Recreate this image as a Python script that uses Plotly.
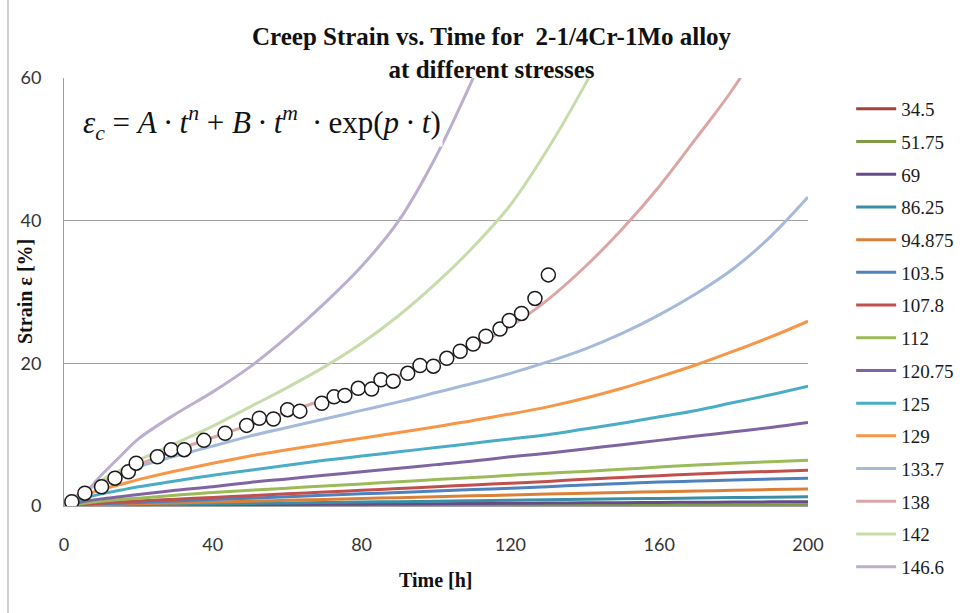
import plotly.graph_objects as go

# ---------------- data ----------------
time_h = [0, 5, 10, 15, 20, 30, 40, 50, 60, 70, 80, 90, 100, 110, 120, 130, 140, 150, 160, 170, 180, 190, 200]

stress_labels = ["34.5", "51.75", "69", "86.25", "94.875", "103.5", "107.8", "112",
                 "120.75", "125", "129", "133.7", "138", "142", "146.6"]

s_34_5 = [0, 0.003, 0.005, 0.007, 0.008, 0.011, 0.014, 0.017, 0.02, 0.023, 0.026, 0.029, 0.032,
          0.035, 0.037, 0.04, 0.042, 0.044, 0.046, 0.048, 0.05, 0.052, 0.054]
s_51_75 = [0, 0.01, 0.015, 0.02, 0.025, 0.035, 0.045, 0.055, 0.065, 0.075, 0.085, 0.095, 0.105,
           0.11, 0.12, 0.125, 0.135, 0.14, 0.15, 0.16, 0.165, 0.175, 0.18]
s_69 = [0, 0.03, 0.05, 0.07, 0.08, 0.11, 0.14, 0.17, 0.2, 0.23, 0.26, 0.29, 0.32,
        0.35, 0.38, 0.41, 0.44, 0.47, 0.5, 0.53, 0.55, 0.58, 0.6]
s_86_25 = [0, 0.05, 0.09, 0.12, 0.15, 0.22, 0.28, 0.35, 0.42, 0.48, 0.55, 0.61, 0.68,
           0.74, 0.8, 0.87, 0.93, 1.0, 1.06, 1.12, 1.18, 1.24, 1.3]
s_94_875 = [0, 0.1, 0.18, 0.25, 0.3, 0.42, 0.55, 0.68, 0.8, 0.92, 1.05, 1.17, 1.3,
            1.42, 1.55, 1.67, 1.8, 1.9, 2.0, 2.1, 2.2, 2.3, 2.4]
s_103_5 = [0, 0.2, 0.3, 0.4, 0.5, 0.7, 0.9, 1.1, 1.3, 1.5, 1.7, 1.9, 2.1,
           2.3, 2.5, 2.7, 2.95, 3.15, 3.35, 3.5, 3.65, 3.78, 3.9]
s_107_8 = [0, 0.25, 0.4, 0.55, 0.7, 0.95, 1.2, 1.45, 1.7, 1.95, 2.2, 2.45, 2.7,
           2.95, 3.2, 3.45, 3.75, 4.0, 4.25, 4.5, 4.7, 4.85, 5.0]
s_112 = [0, 0.35, 0.65, 0.9, 1.1, 1.5, 1.9, 2.2, 2.5, 2.8, 3.1, 3.4, 3.7,
         4.0, 4.3, 4.6, 4.85, 5.15, 5.45, 5.75, 6.0, 6.2, 6.4]
s_120_75 = [0, 0.6, 1.0, 1.3, 1.6, 2.2, 2.7, 3.3, 3.8, 4.3, 4.8, 5.3, 5.8,
            6.3, 6.9, 7.4, 8.0, 8.6, 9.2, 9.8, 10.4, 11.0, 11.7]
s_125 = [0, 1.0, 1.7, 2.2, 2.7, 3.5, 4.3, 5.0, 5.7, 6.4, 7.0, 7.6, 8.2,
         8.8, 9.4, 10.0, 10.8, 11.6, 12.5, 13.4, 14.5, 15.6, 16.8]
s_129 = [0, 1.4, 2.3, 3.0, 3.7, 4.9, 6.0, 7.0, 7.9, 8.7, 9.5, 10.3, 11.1,
         12.0, 12.9, 13.9, 15.1, 16.5, 18.1, 19.8, 21.7, 23.7, 25.9]
s_133_7 = [0, 2.0, 3.2, 4.4, 5.5, 7.0, 8.4, 9.8, 11.0, 12.2, 13.4, 14.6, 15.9,
           17.2, 18.6, 20.2, 22.0, 24.2, 26.8, 29.8, 33.3, 37.8, 43.3]
s_138 = [0, 2.0, 3.3, 4.6, 5.8, 7.8, 9.6, 11.4, 13.2, 14.9, 16.6, 18.3, 20.2,
         22.4, 25.2, 28.9, 33.5, 38.8, 44.8, 51.6, 58.6, 67.0, None]
s_142 = [0, 1.8, 3.6, 5.0, 6.4, 8.8, 11.2, 13.9, 16.6, 19.5, 22.8, 26.7, 31.2,
         36.3, 42.2, 50.0, 59.0, 69.0, None, None, None, None, None]
s_146_6 = [0, 1.5, 4.3, 6.9, 9.4, 12.9, 16.0, 19.5, 23.7, 28.4, 33.6, 40.0, 49.0,
           60.0, 72.0, None, None, None, None, None, None, None, None]

series_values = [s_34_5, s_51_75, s_69, s_86_25, s_94_875, s_103_5, s_107_8, s_112,
                 s_120_75, s_125, s_129, s_133_7, s_138, s_142, s_146_6]

series_colors = ["#A5403D", "#7E9C46", "#654C88", "#3A8EA5", "#DA8137", "#4F81BD", "#C0504D",
                 "#9BBB59", "#8064A2", "#4BACC6", "#F79646", "#A5BADB", "#DDA5A4",
                 "#C8DBAA", "#BBAECF"]

exp_time = [2.1, 5.6, 10.1, 13.7, 17.3, 19.4, 25.1, 28.8, 32.3, 37.6, 43.3, 49.1, 52.5, 56.3,
            60.1, 63.4, 69.3, 72.6, 75.5, 79.1, 82.7, 85.2, 88.5, 92.4, 95.7, 99.3, 102.9,
            106.5, 110.0, 113.4, 117.2, 119.7, 123.0, 126.6, 130.2]
exp_strain = [0.6, 1.8, 2.7, 3.9, 4.8, 6.0, 6.9, 7.9, 7.9, 9.2, 10.2, 11.3, 12.3, 12.2,
              13.5, 13.3, 14.4, 15.3, 15.5, 16.5, 16.4, 17.7, 17.5, 18.6, 19.7, 19.6, 20.7,
              21.7, 22.7, 23.8, 24.8, 26.0, 27.0, 29.1, 32.4]

x_ticks = [0, 40, 80, 120, 160, 200]
y_ticks = [0, 20, 40, 60]

# ---------------- figure ----------------
fig = go.Figure()
for i, (lab, vals, col) in enumerate(zip(stress_labels, series_values, series_colors)):
    fig.add_trace(go.Scatter(
        x=time_h, y=vals, mode="lines", name=lab, legendgroup=f"g{i}",
        line=dict(color=col, width=3, shape="spline", smoothing=1.0),
        connectgaps=False,
    ))

fig.add_trace(go.Scatter(
    x=exp_time, y=exp_strain, mode="markers", showlegend=False,
    marker=dict(symbol="circle", size=14, color="white",
                line=dict(color="#1a1a1a", width=1.5)),
))

serif = "Liberation Serif, Times New Roman, serif"
sans = "Lato, Open Sans, sans-serif"

fig.update_layout(
    width=973, height=613,
    margin=dict(l=64, r=165, t=78, b=107),
    paper_bgcolor="white", plot_bgcolor="white",
    showlegend=True,
    legend=dict(
        x=1.058, y=(506 - 90) / 428, xanchor="left", yanchor="top",
        font=dict(family=serif, size=19, color="#1a1a1a"),
        tracegroupgap=5, bgcolor="rgba(0,0,0,0)", itemwidth=40,
        maxheight=600,
    ),
    xaxis=dict(
        range=[0, 200], tickvals=x_ticks, showgrid=False, zeroline=False,
        showline=True, linecolor="#A0A0A0", linewidth=1,
        ticks="outside", ticklen=22, tickcolor="rgba(0,0,0,0)",
        tickfont=dict(family=sans, size=18, color="#333333"),
    ),
    yaxis=dict(
        range=[0, 60], tickvals=y_ticks, showgrid=True, gridcolor="#A0A0A0", gridwidth=1,
        zeroline=False, showline=True, linecolor="#A0A0A0", linewidth=1,
        ticks="outside", ticklen=18, tickcolor="rgba(0,0,0,0)",
        tickfont=dict(family=sans, size=18, color="#333333"),
    ),
    annotations=[
        dict(text="<b>Creep Strain vs. Time for \u00a02-1/4Cr-1Mo alloy<br>at different stresses</b>",
             xref="paper", yref="paper", x=(492 - 64) / 744, y=(506 - 21) / 428,
             xanchor="center", yanchor="top",
             showarrow=False, font=dict(family=serif, size=25, color="#111111")),
        dict(text="<b>Time [h]</b>", xref="paper", yref="paper", x=0.5, y=-(580 - 506) / 428,
             xanchor="center", yanchor="middle", showarrow=False,
             font=dict(family=serif, size=20, color="#111111")),
        dict(text="<b>Strain ε [%]</b>", xref="paper", yref="paper", x=(25 - 64) / 744, y=0.5,
             xanchor="center", yanchor="middle", textangle=-90, showarrow=False,
             font=dict(family=serif, size=20, color="#111111")),
        dict(text="<i>ε<sub>c</sub></i> = <i>A</i>\u2009·\u2009<i>t<sup>n</sup></i> + <i>B</i>\u2009·\u2009<i>t<sup>m</sup></i> \u2009·\u2009exp(<i>p</i>\u2009·\u2009<i>t</i>)",
             xref="paper", yref="paper", x=(262 - 64) / 744, y=(506 - 123) / 428,
             xanchor="center", yanchor="middle", showarrow=False, bgcolor="white",
             font=dict(family=serif, size=31, color="#111111")),
    ],
    shapes=[
        dict(type="line", xref="paper", yref="paper", x0=(8 - 64) / 744, x1=(8 - 64) / 744,
             y0=-107 / 428, y1=(506) / 428, line=dict(color="#A0A0A0", width=1)),
    ],
)

fig.write_html("out.html")
